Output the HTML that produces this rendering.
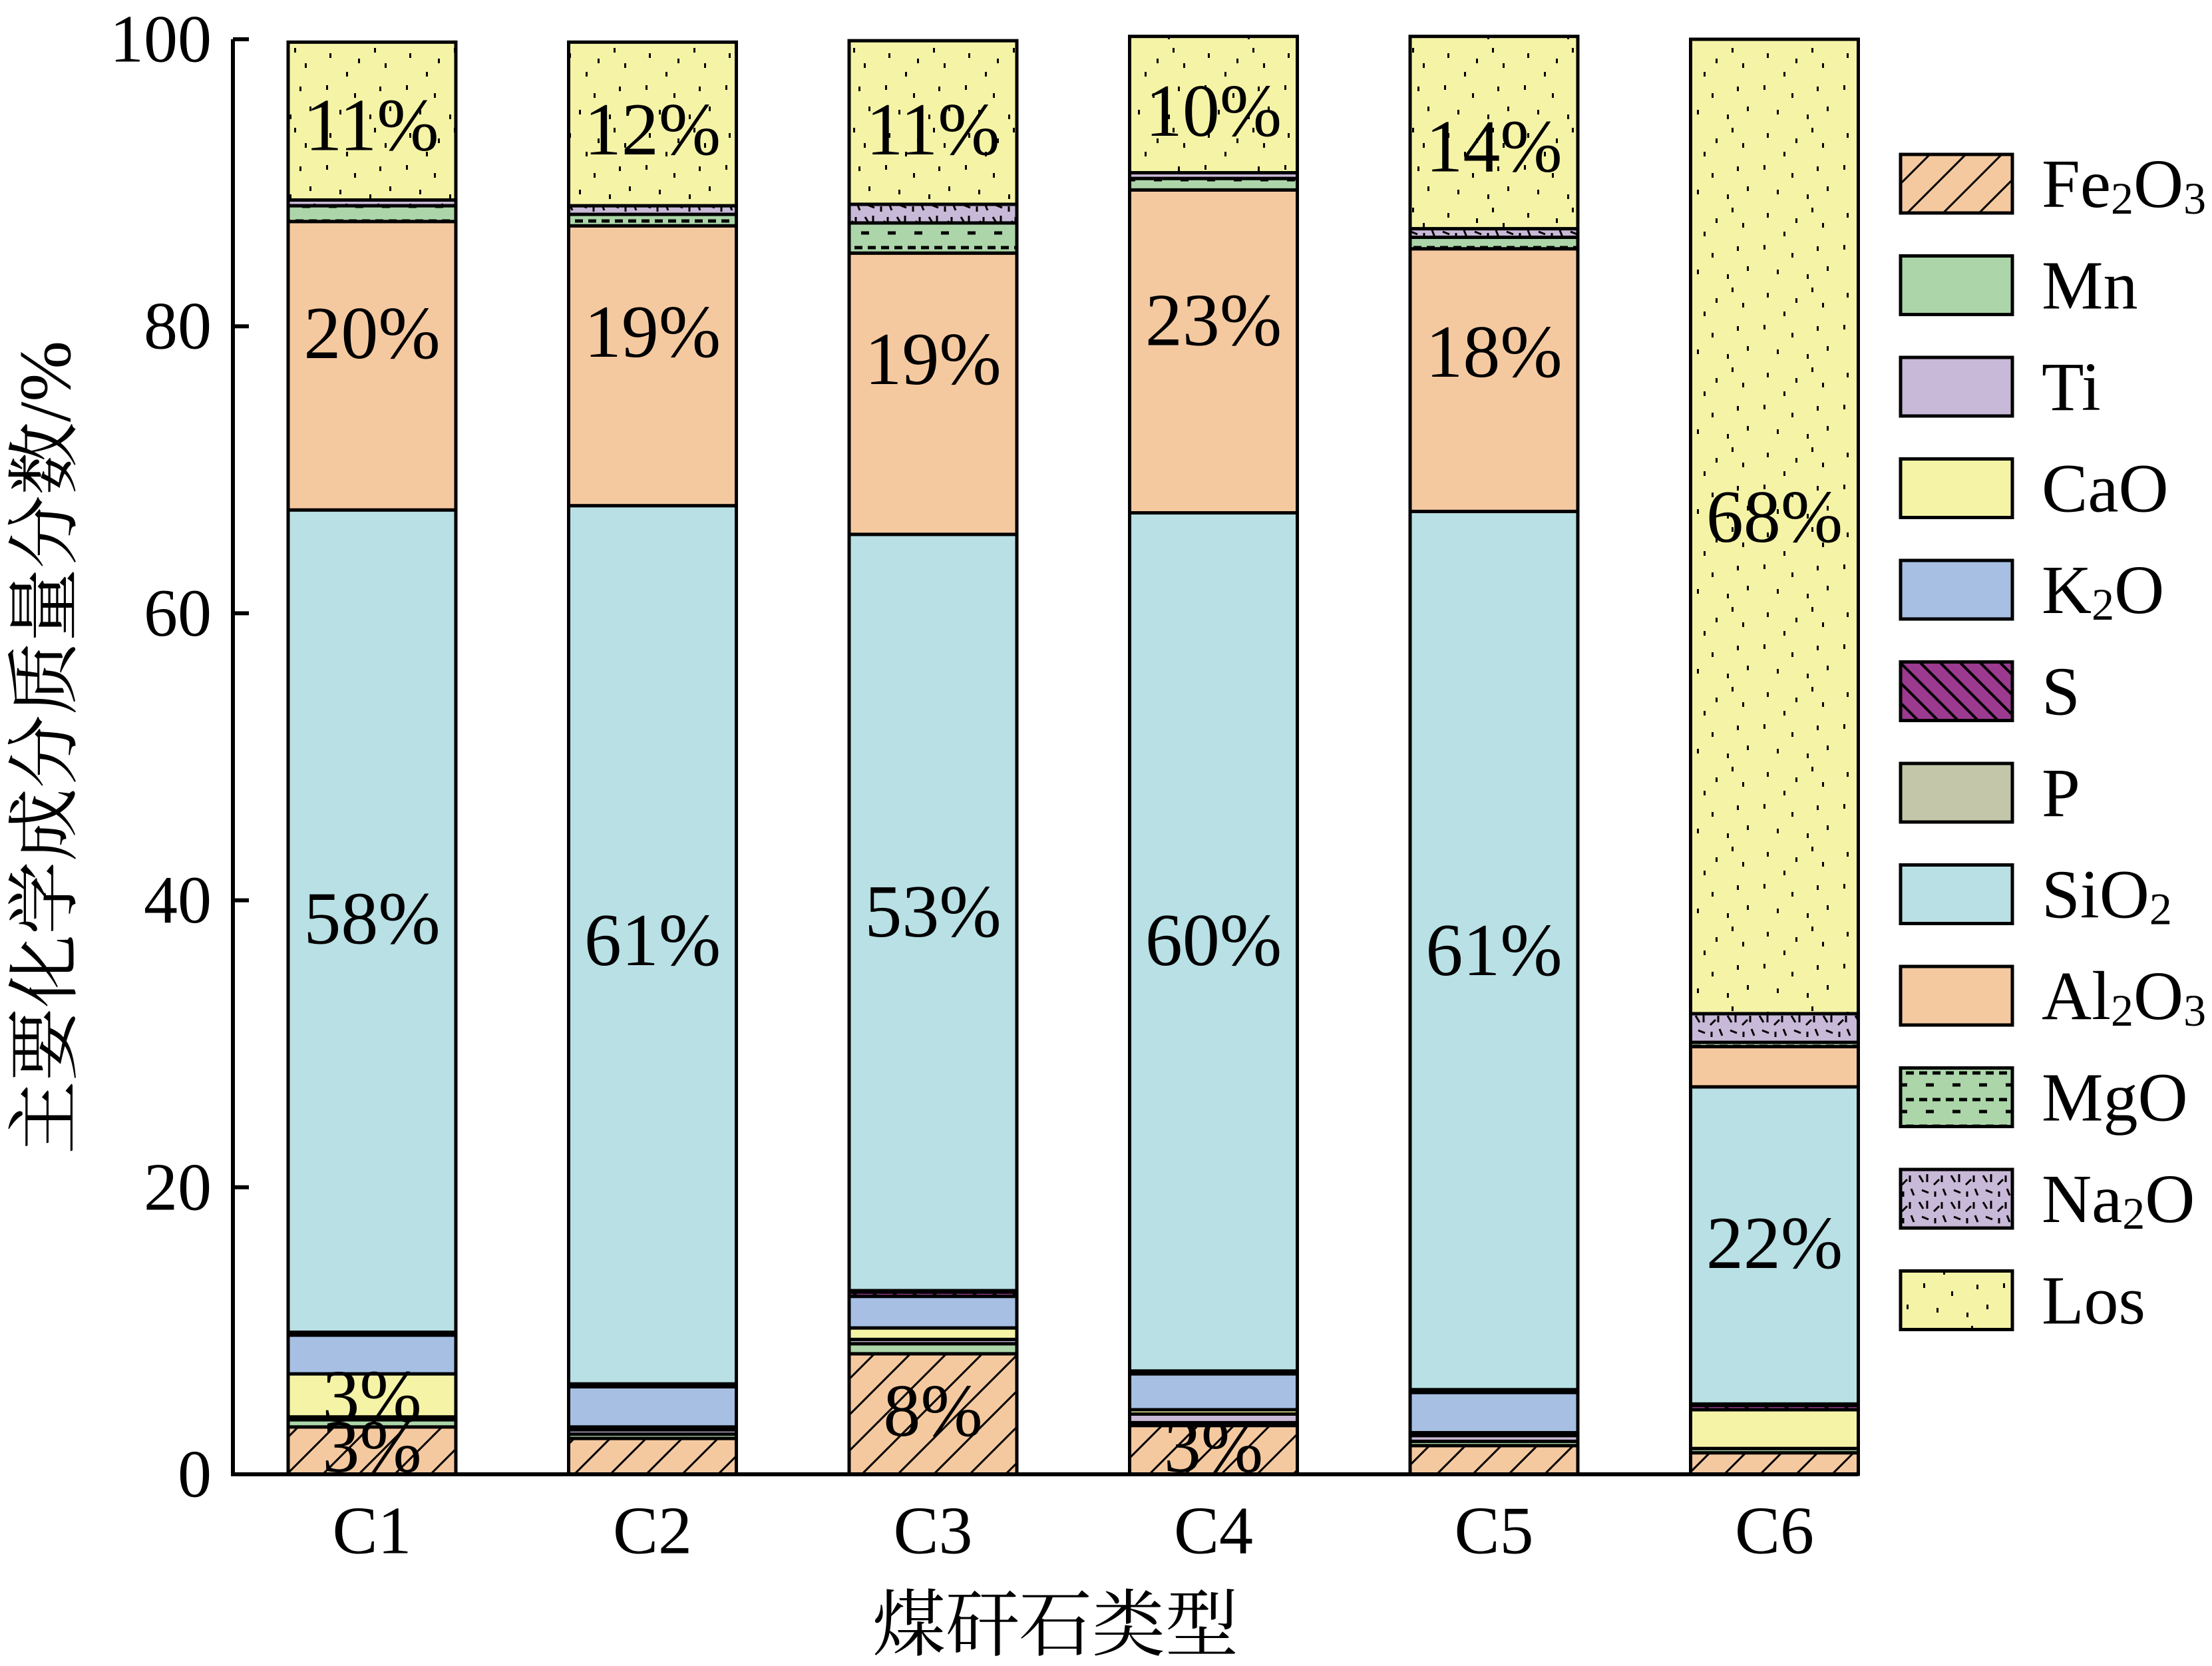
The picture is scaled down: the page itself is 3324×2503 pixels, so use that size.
<!DOCTYPE html>
<html><head><meta charset="utf-8"><style>
html,body{margin:0;padding:0;background:#fff;}
svg{display:block;}
text{font-family:"Liberation Serif","Noto Serif CJK SC",serif;fill:#000;}
</style></head><body>
<svg id="chart" width="3324" height="2503" viewBox="0 0 3324 2503" xmlns="http://www.w3.org/2000/svg">
<defs>
<pattern id="p-fe" patternUnits="userSpaceOnUse" width="54" height="54"><rect width="54" height="54" fill="#f5c9a0"/><path d="M-10,64 L64,-10 M-10,10 L10,-10 M44,64 L64,44" stroke="#000" stroke-width="3"/></pattern>
<pattern id="p-s" patternUnits="userSpaceOnUse" width="30" height="30"><rect width="30" height="30" fill="#9b3a8f"/><path d="M0,0 L30,30 M-5,25 L5,35 M25,-5 L35,5" stroke="#000" stroke-width="4"/></pattern>
<pattern id="p-mg" patternUnits="userSpaceOnUse" width="40" height="40"><rect width="40" height="40" fill="#acd6a9"/><path d="M4,12 h12 M24,12 h12 M14,30 h12" stroke="#000" stroke-width="5"/></pattern>
<pattern id="p-na" patternUnits="userSpaceOnUse" width="48" height="40"><rect width="48" height="40" fill="#c9b9d8"/><path d="M4,6 l6,10 M16,4 v12 M26,20 l8,-8 M38,6 v10 M8,28 l10,4 M28,30 v8 M40,26 l4,10" stroke="#000" stroke-width="3"/></pattern>
<pattern id="p-los" patternUnits="userSpaceOnUse" width="120" height="120"><rect width="120" height="120" fill="#f5f3a6"/><g fill="#000"><rect x="10" y="8" width="3" height="7"/><rect x="52" y="20" width="3" height="7"/><rect x="90" y="10" width="3" height="7"/><rect x="30" y="45" width="3" height="7"/><rect x="75" y="52" width="3" height="7"/><rect x="105" y="40" width="3" height="7"/><rect x="15" y="80" width="3" height="7"/><rect x="58" y="88" width="3" height="7"/><rect x="98" y="95" width="3" height="7"/><rect x="40" y="108" width="3" height="7"/><rect x="82" y="72" width="3" height="7"/></g></pattern>
</defs>
<g id="bars"></g>
<g id="labels"></g>
<g id="axes"></g>
<g id="legend"></g>
</svg>
<script>
const categories = ["C1","C2","C3","C4","C5","C6"];
const seriesNames = ["Fe2O3","Mn","Ti","CaO","K2O","S","P","SiO2","Al2O3","MgO","Na2O","Los"];
const fe2o3 = [3.3,2.5,8.4,3.4,2.0,1.5];
const mn    = [0.5,0.3,0.7,0.2,0.3,0.3];
const ti    = [0.2,0.3,0.3,0.6,0.4,0.0];
const cao   = [3.0,0.2,0.8,0.3,0.2,2.7];
const k2o   = [2.7,2.8,2.2,2.5,2.8,0.0];
const s     = [0.1,0.1,0.3,0.1,0.1,0.3];
const p     = [0.1,0.1,0.1,0.1,0.1,0.1];
const sio2  = [57.3,61.2,52.7,59.8,61.2,22.1];
const al2o3 = [20.1,19.5,19.6,22.5,18.3,2.8];
const mgo   = [1.1,0.8,2.1,0.8,0.8,0.3];
const na2o  = [0.4,0.6,1.3,0.4,0.6,2.0];
const los   = [11.0,11.4,11.4,9.5,13.4,67.9];
const yTicks = [0,20,40,60,80,100];
const labelText = ["11%","20%","58%","3%","3%","12%","19%","61%","11%","19%","53%","8%","10%","23%","60%","3%","14%","18%","61%","68%","22%"];
const labelBar  = [0,0,0,0,0,1,1,1,2,2,2,2,3,3,3,3,4,4,4,5,5];
const labelY    = [94,79.5,38.7,5.4,1.9,93.7,79.6,37.2,93.7,77.7,39.2,4.4,95,80.4,37.2,1.9,92.5,78.2,36.5,66.7,16.1];

const series = [fe2o3,mn,ti,cao,k2o,s,p,sio2,al2o3,mgo,na2o,los];
const fills = ["url(#p-fe)","#acd6a9","#c9b9d8","#f5f3a6","#a6bfe3","url(#p-s)","#c3c6a8","#b8e0e5","#f5c9a0","url(#p-mg)","url(#p-na)","url(#p-los)"];
const NS="http://www.w3.org/2000/svg";
const X0=350, Y0=2215, Y100=59, BW=252;
const y = v => Y0 - (Y0-Y100)*v/100;
const xc = i => 559 + i*421.5;
function mk(tag, attrs, parent){const e=document.createElementNS(NS,tag);for(const k in attrs)e.setAttribute(k,attrs[k]);parent.appendChild(e);return e;}
const gB=document.getElementById('bars');
categories.forEach((c,i)=>{
  let acc=0;
  series.forEach((arr,j)=>{
    const v=arr[i]; if(v<=0) return;
    const r=mk('rect',{x:xc(i)-BW/2,y:y(acc+v),width:BW,height:y(acc)-y(acc+v),fill:fills[j],stroke:'#000','stroke-width':5},gB);
    
    
    acc+=v;
  });
});
const gL=document.getElementById('labels');
labelText.forEach((t,k)=>{
  const e=mk('text',{x:xc(labelBar[k]),y:y(labelY[k]),'text-anchor':'middle','dominant-baseline':'central','font-size':112},gL);
  e.textContent=t;
  
  
});
const gA=document.getElementById('axes');
let a=mk('path',{d:`M${X0},${Y100} V${Y0} H2792`,stroke:'#000','stroke-width':6,fill:'none'},gA);


yTicks.forEach(t=>{
  const tk=mk('line',{x1:X0,x2:X0+24,y1:y(t),y2:y(t),stroke:'#000','stroke-width':6},gA);
  
  
  const e=mk('text',{x:318,y:y(t),'text-anchor':'end','dominant-baseline':'central','font-size':102},gA);
  e.textContent=t;
  
  
});
categories.forEach((c,i)=>{
  const e=mk('text',{x:xc(i),y:2300,'text-anchor':'middle','dominant-baseline':'central','font-size':102},gA);
  e.textContent=c;
  
  
});
let xt=mk('text',{x:1586,y:2442,'text-anchor':'middle','dominant-baseline':'central','font-size':110},gA);
xt.textContent='煤矸石类型';


let yt=mk('text',{x:68,y:1123,'text-anchor':'middle','dominant-baseline':'central','font-size':110,transform:'rotate(-90 68 1123)'},gA);
yt.textContent='主要化学成分质量分数/%';


const gG=document.getElementById('legend');
const legSub=[["Fe","2","O","3"],["Mn"],["Ti"],["CaO"],[" K","2","O"],["S"],["P"],["SiO","2"],["Al","2","O","3"],["MgO"],["Na","2","O"],["Los"]];
const legSubIdx=[[1,3],[],[],[],[1],[],[],[1],[1,3],[],[1],[]];
seriesNames.forEach((n,j)=>{
  const cy=276+j*152.5;
  const r=mk('rect',{x:2856,y:cy-44,width:168,height:88,fill:fills[j],stroke:'#000','stroke-width':5},gG);
  
  
  const t=mk('text',{x:3068,y:cy,'dominant-baseline':'central','font-size':104,'xml:space':'preserve'},gG);
  
  
  legSub[j].forEach((part,q)=>{
    const sp=mk('tspan',{},t);
    if(legSubIdx[j].includes(q)){sp.setAttribute('font-size',68);sp.setAttribute('dy',22);}
    else if(q>0 && legSubIdx[j].includes(q-1)){sp.setAttribute('dy',-22);}
    sp.textContent=part;
  });
});
</script>
</body></html>
